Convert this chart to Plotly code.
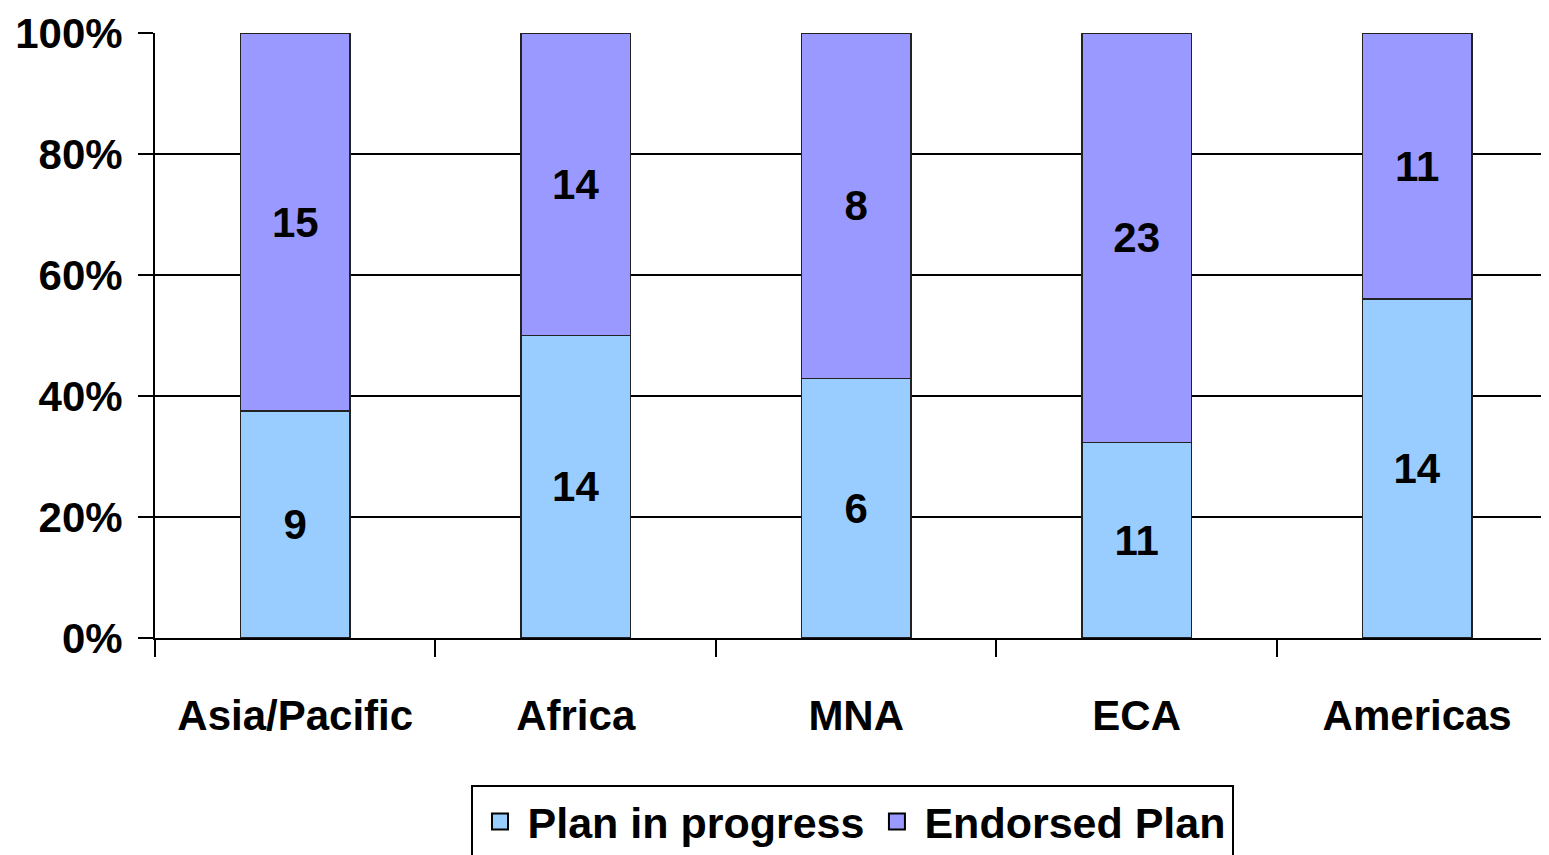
import plotly.graph_objects as go

categories = ["Asia/Pacific", "Africa", "MNA", "ECA", "Americas"]
plan_in_progress = [9, 14, 6, 11, 14]
endorsed_plan = [15, 14, 8, 23, 11]
series_names = ["Plan in progress", "Endorsed Plan"]
series_colors = ["#99CCFF", "#9999FF"]
y_ticks = [0, 20, 40, 60, 80, 100]
y_tick_labels = ["0%", "20%", "40%", "60%", "80%", "100%"]

FONT = "Liberation Sans"
FS = 42

fig = go.Figure()
for name, vals, col in zip(series_names, [plan_in_progress, endorsed_plan], series_colors):
    fig.add_trace(go.Bar(
        x=categories, y=vals, name=name, text=vals,
        texttemplate="<b>%{text}</b>", textposition="inside",
        insidetextanchor="middle", constraintext="none",
        textfont=dict(family=FONT, size=FS, color="black"),
        marker=dict(color=col, line=dict(color="#222222", width=1.5)),
        width=0.39, showlegend=False,
    ))
# legend entries
for name, col in zip(series_names, series_colors):
    fig.add_trace(go.Scatter(
        x=[None], y=[None], mode="markers", name="<b>%s</b>" % name,
        marker=dict(symbol="square", size=30, color=col, line=dict(color="black", width=2)),
        showlegend=True,
    ))

fig.update_layout(
    barmode="stack", barnorm="percent",
    width=1541, height=847,
    margin=dict(l=147, r=0, t=25, b=217, autoexpand=False),
    plot_bgcolor="white", paper_bgcolor="white",
    font=dict(family=FONT, size=FS, color="black"),
    legend=dict(orientation="h", x=0.5, xanchor="center", y=-0.243, yanchor="top",
                bordercolor="black", borderwidth=2, itemsizing="trace",
                font=dict(family=FONT, size=43, color="black"),
                traceorder="normal", itemwidth=45, tracegroupgap=0),
    showlegend=True,
)
fig.update_xaxes(
    range=[-0.5, 4.47], tickson="boundaries", ticks="outside", ticklen=17,
    tickwidth=2, tickcolor="black", showline=True, linecolor="black", linewidth=2,
    tickfont=dict(family=FONT, size=FS, color="black"),
    tickprefix="<b>", ticksuffix="</b>", ticklabelstandoff=40,
    showgrid=False, automargin=False,
)
fig.update_yaxes(
    range=[0, 100], tickvals=y_ticks, ticktext=["<b>%s</b>" % t for t in y_tick_labels],
    ticks="outside", ticklen=15, tickwidth=2, tickcolor="black",
    showline=True, linecolor="black", linewidth=2,
    showgrid=True, gridcolor="black", gridwidth=2, zeroline=False,
    tickfont=dict(family=FONT, size=FS, color="black"), ticklabelstandoff=7,
    automargin=False,
)
fig.write_html("out.html")
